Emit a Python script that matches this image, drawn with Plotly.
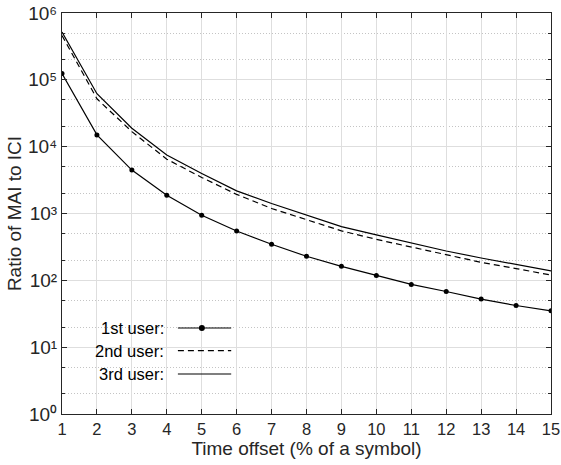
import plotly.graph_objects as go

offsets = list(range(1, 16))
user1 = [1.24e5, 1.5e4, 4460, 1880, 940, 548, 347, 229, 162, 118, 87, 68, 52.5, 42, 35]
user2 = [4.6e5, 5.2e4, 16800, 6500, 3460, 1930, 1190, 815, 550, 410, 313, 240, 186, 150, 120]
user3 = [5.2e5, 6.2e4, 18900, 7480, 3980, 2180, 1410, 940, 635, 480, 359, 275, 216, 172, 138]
legend_labels = ["1st user:", "2nd user:", "3rd user:"]
ytick_vals = [1, 10, 100, 1000, 1e4, 1e5, 1e6]
ytick_text = ["10⁰", "10¹", "10²", "10³", "10⁴", "10⁵", "10⁶"]

FONT = "Liberation Sans, Arial, Helvetica, sans-serif"
TXT = "#262626"

fig = go.Figure()
fig.add_trace(go.Scatter(x=offsets, y=user1, mode="lines+markers",
                         line=dict(color="black", width=1.2),
                         marker=dict(color="black", size=5), name=legend_labels[0]))
fig.add_trace(go.Scatter(x=offsets, y=user2, mode="lines",
                         line=dict(color="black", width=1.2, dash="6px,4px"), name=legend_labels[1]))
fig.add_trace(go.Scatter(x=offsets, y=user3, mode="lines",
                         line=dict(color="black", width=1.2), name=legend_labels[2]))

fig.update_layout(
    width=561, height=465,
    margin=dict(l=62, r=10, t=13, b=51),
    paper_bgcolor="white", plot_bgcolor="white",
    showlegend=False,
    font=dict(family=FONT, size=16, color=TXT),
    xaxis=dict(range=[1, 15], tickvals=offsets, showline=True, linecolor=TXT, linewidth=1,
               mirror="ticks", ticks="inside", ticklen=5, tickcolor=TXT,
               showgrid=True, gridcolor="#dedede", gridwidth=1, zeroline=False,
               automargin=False, tickfont=dict(size=16.5),
               title=dict(text="Time offset (% of a symbol)", font=dict(size=19), standoff=0)),
    yaxis=dict(type="log", range=[0, 6], tickvals=ytick_vals, ticktext=ytick_text,
               showline=True, linecolor=TXT, linewidth=1,
               mirror="ticks", ticks="inside", ticklen=5, tickcolor=TXT,
               showgrid=True, gridcolor="#dedede", gridwidth=1, zeroline=False,
               automargin=False, tickfont=dict(size=19),
               minor=dict(ticks="inside", ticklen=3, tickcolor=TXT,
                          showgrid=True, gridcolor="#c4c4c4", griddash="1px,2px", gridwidth=1),
               title=dict(text="Ratio of MAI to ICI", font=dict(size=19), standoff=1)),
)

# custom legend (text left of the sample, MATLAB style)
leg_y = [0.2145, 0.158, 0.0998]
dashes = ["solid", "6px,4px", "solid"]
for lbl, yy, dsh in zip(legend_labels, leg_y, dashes):
    fig.add_annotation(x=0.2127, y=yy, xref="paper", yref="paper", text=lbl, showarrow=False,
                       xanchor="right", yanchor="middle", font=dict(size=16.5, color="black"))
    fig.add_shape(type="line", xref="paper", yref="paper", x0=0.237, x1=0.346, y0=yy, y1=yy,
                  line=dict(color="black", width=1.2, dash=dsh))
fig.add_shape(type="circle", xref="paper", yref="paper",
              xsizemode="pixel", ysizemode="pixel", xanchor=0.286, yanchor=leg_y[0],
              x0=-3, x1=3, y0=-3, y1=3,
              fillcolor="black", line=dict(color="black", width=0))

fig.write_html("out.html", config={"displayModeBar": False},
               post_script="document.body.style.margin='0';document.body.style.overflow='hidden';")
